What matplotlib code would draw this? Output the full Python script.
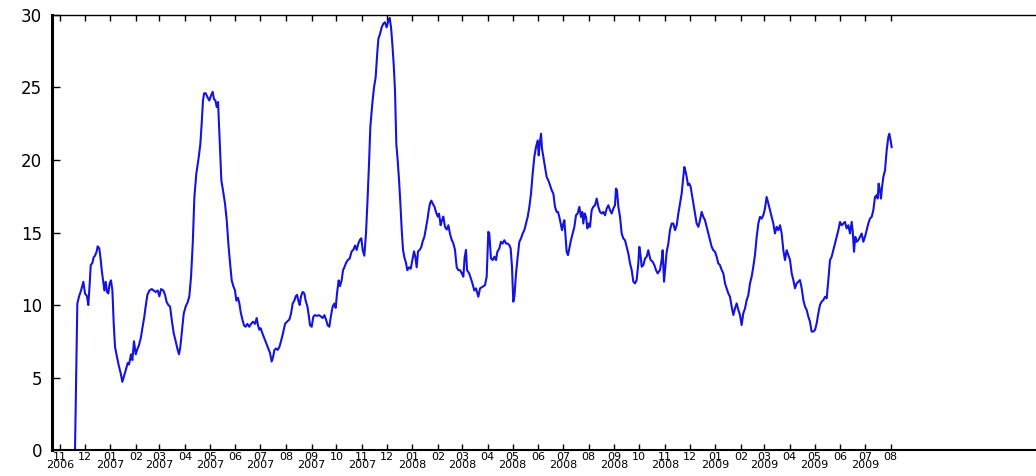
import pandas as pd
import matplotlib
matplotlib.use('Agg')
import matplotlib.pyplot as plt

# --- rolling volatility series, read as (day offset from 2006-11-01, value) ---
start = pd.Timestamp('2006-11-01')

day = [
    18.1, 20.9, 23.0, 25.4, 28.2, 30.2, 32.6, 34.2, 35.9, 37.1, 39.1, 40.7, 42.3, 44.3, 45.5,
    47.5, 49.2, 50.4, 52.4, 53.6, 55.2, 56.8, 58.4, 60.0, 61.6, 63.3, 64.9, 66.5, 68.9, 71.3,
    73.3, 75.3, 77.4, 79.4, 81.8, 83.4, 85.8, 87.4, 89.4, 91.5, 93.1, 95.5, 97.9, 99.5, 101.9,
    103.5, 105.6, 108.0, 110.8, 113.2, 115.6, 118.0, 120.1, 122.1, 124.9, 126.9, 128.9, 130.9,
    133.0, 135.0, 137.4, 139.8, 141.8, 143.8, 145.4, 147.5, 149.5, 151.9, 154.3, 156.3, 158.3,
    160.4, 162.4, 164.8, 167.2, 169.6, 171.2, 172.8, 174.1, 176.1, 178.5, 180.5, 182.5, 184.5,
    186.1, 187.8, 189.4, 191.0, 193.0, 195.0, 197.0, 199.4, 201.5, 203.5, 205.5, 207.5, 209.5,
    211.5, 213.1, 215.1, 216.8, 218.4, 220.4, 222.4, 224.4, 226.4, 228.8, 230.9, 233.3, 235.7,
    237.7, 239.3, 240.9, 242.5, 244.6, 247.0, 249.4, 251.8, 253.8, 255.8, 257.5, 259.1, 261.1,
    263.1, 265.1, 267.1, 269.5, 272.0, 274.4, 277.2, 279.2, 281.2, 283.2, 284.9, 286.5, 288.1,
    289.7, 291.3, 293.3, 295.3, 296.9, 299.0, 300.6, 302.2, 304.2, 306.2, 308.2, 310.6, 313.1,
    315.5, 317.5, 319.5, 321.5, 323.5, 325.5, 327.6, 329.6, 331.6, 333.2, 334.8, 336.8, 338.4,
    340.4, 342.1, 343.7, 345.7, 347.7, 350.1, 352.5, 354.5, 356.6, 358.6, 360.6, 362.6, 364.2,
    365.8, 367.8, 369.8, 371.5, 373.5, 375.1, 377.5, 379.5, 381.5, 383.6, 384.8, 386.8, 388.8,
    390.8, 392.8, 394.8, 396.9, 398.5, 400.1, 401.7, 403.3, 404.9, 406.5, 408.1, 409.8, 411.4,
    413.0, 414.6, 416.2, 418.2, 419.8, 421.8, 423.9, 425.9, 427.9, 429.5, 431.1, 432.7, 434.7,
    436.7, 438.4, 440.4, 442.0, 444.0, 445.6, 447.2, 448.8, 450.4, 452.5, 454.5, 456.5, 458.1,
    460.1, 461.7, 463.3, 465.3, 467.4, 469.4, 471.4, 473.4, 475.4, 477.4, 479.5, 481.5, 483.5,
    485.5, 487.5, 489.1, 490.7, 492.0, 494.4, 496.8, 498.4, 500.8,
    502.8, 505.6, 507.7, 510.9, 513.7, 515.7, 517.7, 518.9, 520.9, 523.0, 525.0, 527.0, 528.6,
    531.0, 533.0, 535.0, 537.1, 539.1, 541.1, 543.1, 544.7, 546.3, 547.9, 549.2, 551.2, 553.2,
    555.2, 557.2, 559.2, 561.2, 563.3, 565.3, 567.3, 569.3, 571.3, 573.3, 575.3, 577.4, 578.6,
    579.8, 581.4, 582.6, 584.2, 586.2, 588.2, 590.2, 592.3, 594.3, 596.3, 598.3, 600.3, 601.9,
    603.5, 605.1, 606.8, 608.4, 609.6, 610.8, 612.4, 614.0, 615.6, 617.6, 619.6, 621.7, 623.7,
    625.7, 627.7, 629.7, 631.3, 632.5, 634.2, 635.8, 637.4, 639.0, 640.6, 642.6, 644.6, 646.7,
    648.7, 650.7, 652.7, 654.7, 656.7, 658.7, 660.8, 662.8, 664.8, 666.8, 668.8, 670.8, 672.0,
    673.2, 674.9, 676.9, 678.9, 680.9, 682.9, 684.9, 686.9, 689.0, 691.0, 693.0, 695.0, 697.0,
    699.0, 700.2, 701.9, 703.1, 705.1, 707.1, 709.1, 711.1, 712.3, 713.9, 716.4, 718.4, 720.4,
    722.4, 725.2, 727.2, 728.4, 730.1, 731.7, 733.3, 735.3, 737.3, 739.3, 741.3, 743.4, 745.4,
    747.4, 749.4, 751.4, 753.4, 754.6, 755.8, 757.5, 759.1, 760.7, 762.3, 763.9, 765.5, 767.5,
    769.5, 771.6, 773.6, 775.6, 777.6, 779.6, 781.6, 783.6, 785.7, 787.7, 789.7, 791.7, 793.7,
    795.7, 797.7, 799.8, 801.8, 803.8, 805.8, 807.8, 809.8, 811.8, 813.9, 815.9, 817.9, 819.9,
    821.9, 823.9, 825.9, 828.0, 830.0, 832.0, 834.0, 836.0, 838.0, 840.0, 842.1, 844.1, 846.1,
    848.1, 850.1, 852.1, 854.1, 856.2, 858.2, 860.2, 862.2, 864.2, 866.2, 868.2, 870.3, 872.3,
    874.3, 876.3, 878.3, 880.3, 882.4, 884.4, 886.4, 888.4, 890.4, 892.4, 894.4, 896.5, 898.5,
    900.5, 902.5, 904.5, 906.5, 908.5, 910.6, 912.6, 914.6, 916.6, 918.6, 920.6, 922.6, 924.7,
    926.7, 928.7, 930.7, 932.7, 934.7, 936.7, 938.8, 940.8, 942.8, 944.8, 946.8, 948.8, 950.8,
    952.9, 954.9, 956.9, 958.1, 959.7, 961.3, 962.9, 964.9, 967.0, 969.0, 971.0, 973.0, 975.0,
    977.0, 979.0, 981.1, 983.1, 985.1, 987.1, 988.3, 989.5, 991.1, 992.3, 993.6, 995.2, 997.2,
    999.2, 1001.2, 1002.4, 1004.0, 1005.2,
]

vol = [
    0.0, 10.1, 10.6, 11.0, 11.6, 10.8, 10.6, 10.0, 11.5, 12.75, 12.9, 13.3, 13.4, 13.7, 14.05,
    13.9, 13.1, 12.4, 11.5, 11.0, 11.6, 10.9, 10.8, 11.5, 11.7, 11.0, 8.7, 7.1, 6.4, 5.75,
    5.3, 4.7, 5.1, 5.5, 6.0, 5.9, 6.6, 6.2, 7.5, 6.6, 6.9, 7.25, 7.8, 8.4, 9.2,
    9.9, 10.7, 11.0, 11.1, 11.0, 10.9, 11.0, 10.6, 11.1, 11.0, 10.7, 10.2, 10.0,
    9.9, 9.0, 8.05, 7.5, 7.0, 6.6, 7.1, 8.3, 9.4, 9.9, 10.2, 10.6, 11.9,
    14.2, 17.45, 19.1, 20.0, 21.1, 22.5, 24.1, 24.6, 24.6, 24.3, 24.1, 24.45, 24.7,
    24.2, 24.1, 23.65, 24.0, 21.35, 18.6, 17.9, 17.0, 15.85, 14.2, 12.9, 11.7, 11.3,
    11.0, 10.3, 10.5, 10.1, 9.5, 9.0, 8.6, 8.5, 8.7, 8.5, 8.7, 8.85, 8.7,
    9.1, 8.6, 8.3, 8.4, 8.05, 7.7, 7.35, 7.0, 6.7, 6.1, 6.4, 6.9, 7.0,
    6.9, 7.1, 7.5, 8.05, 8.7, 8.85, 9.0, 9.4, 10.1, 10.3, 10.6, 10.7, 10.3,
    10.0, 10.6, 10.9, 10.8, 10.3, 9.9, 9.3, 8.6, 8.5, 9.2, 9.3, 9.25, 9.3,
    9.2, 9.1, 9.3, 9.0, 8.6, 8.5, 9.3, 9.9, 10.1, 9.8, 10.8, 11.7, 11.3,
    11.7, 12.4, 12.6, 12.9, 13.1, 13.2, 13.7, 13.8, 14.1, 13.8, 14.25, 14.5, 14.6,
    13.8, 13.4, 14.9, 17.0, 19.75, 22.3, 23.9, 25.0, 25.7, 27.5, 28.35, 28.7, 29.15,
    29.4, 29.5, 29.15, 29.6, 29.8, 29.15, 28.0, 26.6, 24.8, 21.1, 20.0, 18.6, 17.0,
    15.2, 13.8, 13.3, 12.9, 12.4, 12.6, 12.5, 13.1, 13.7, 13.3, 12.6, 13.7, 13.8,
    14.0, 14.4, 14.7, 15.2, 15.85, 16.5, 17.0, 17.2, 17.0, 16.8, 16.4, 16.1, 16.3,
    15.5, 15.85, 16.1, 15.4, 15.2, 15.5, 14.9, 14.5, 14.25, 13.8, 12.6, 12.4, 12.4,
    12.2, 11.95, 13.3, 13.8, 12.4, 12.2, 11.8, 11.5, 11.0,
    11.15, 10.57, 11.15, 11.26, 11.38, 11.95, 15.05, 14.93, 13.21, 13.10, 13.33, 13.10, 13.67,
    13.90, 14.36, 14.24, 14.47, 14.24, 14.24, 14.13, 13.90, 12.64, 10.23, 10.57, 12.18, 13.33,
    14.36, 14.59, 14.93, 15.16, 15.62, 16.08, 16.77, 17.68, 19.06, 20.21, 20.89, 21.35, 20.32,
    21.12, 21.81, 20.78, 20.21, 19.52, 18.83, 18.60, 18.26, 17.91, 17.68, 16.77, 16.42, 16.42,
    16.08, 15.62, 15.16, 15.62, 15.85, 14.93, 13.67, 13.44, 13.90, 14.47, 14.93, 15.39, 16.19,
    16.31, 16.77, 16.08, 16.42, 15.62, 16.31, 16.08, 15.28, 15.62, 15.39, 16.54, 16.77, 16.88,
    17.34, 16.77, 16.42, 16.31, 16.42, 16.19, 16.65, 16.88, 16.54, 16.31, 16.65, 16.88, 18.03,
    17.91, 16.77, 16.08, 14.93, 14.59, 14.47, 14.01, 13.56, 12.87, 12.41, 11.61, 11.49, 11.72,
    12.87, 14.01, 13.33, 12.64, 12.75, 13.21, 13.33, 13.78, 13.44, 13.10, 12.98, 12.75, 12.41,
    12.18, 12.41, 13.10, 13.78, 11.61, 12.64, 13.67, 14.24, 15.16, 15.62, 15.62, 15.16, 15.50,
    16.31, 17.00, 17.68, 18.83, 19.52, 19.29, 18.83, 18.26, 18.37, 18.14, 17.57, 17.00, 16.31,
    15.62, 15.39, 15.85, 16.42, 16.08, 15.85, 15.39, 14.93, 14.47, 14.01, 13.78, 13.67, 13.33,
    12.87, 12.75, 12.41, 12.18, 11.49, 11.15, 10.80, 10.57, 9.89, 9.31, 9.77, 10.11, 9.66,
    9.31, 8.62, 9.43, 9.77, 10.34, 10.69, 11.49, 11.95, 12.64, 13.44, 14.70, 15.62, 16.08,
    15.96, 16.19, 16.65, 17.45, 17.00, 16.54, 16.08, 15.62, 14.93, 15.39, 15.16, 15.50, 14.93,
    13.78, 13.10, 13.78, 13.44, 13.10, 12.18, 11.72, 11.15, 11.49, 11.61, 11.72, 11.15, 10.34,
    9.89, 9.66, 9.20, 8.85, 8.17, 8.17, 8.28, 8.74, 9.43, 10.00, 10.23, 10.34, 10.57,
    10.46, 11.72, 13.10, 13.33, 13.78, 14.24, 14.70, 15.16, 15.73, 15.50, 15.62, 15.73, 15.28,
    15.50, 14.93, 15.73, 15.16, 13.67, 14.70, 14.36, 14.47, 14.70, 14.93, 14.36, 14.70, 15.16,
    15.62, 15.96, 16.08, 16.54, 17.45, 17.57, 17.34, 18.37, 17.91, 17.34, 18.14, 18.83, 19.29,
    20.67, 21.58, 21.81, 21.35, 20.89,
]

# monthly ticks: odd months carry the year, even months only the month
major_months = pd.date_range('2006-11-01', '2009-07-01', freq='2MS')
minor_months = pd.date_range('2006-12-01', '2009-08-01', freq='2MS')
y_ticks = [0, 5, 10, 15, 20, 25, 30]

dates = start + pd.to_timedelta(day, unit='D')

fig = plt.figure(figsize=(10.36, 4.76), dpi=100)
# axes runs past the right edge of the canvas
ax = fig.add_axes([0.0502, 0.0546, 0.966, 0.9139])

ax.plot(dates, vol, color='#1414e0', linewidth=1.5)

ax.set_xlim(start - pd.Timedelta(days=9.7), start + pd.Timedelta(days=1200))
ax.set_ylim(0, 30)

ax.set_xticks(major_months)
ax.set_xticklabels([d.strftime('%m\n%Y') for d in major_months], linespacing=0.8)
ax.set_xticks(minor_months, minor=True)
ax.set_xticklabels([d.strftime('%m') for d in minor_months], minor=True)
ax.set_yticks(y_ticks)
ax.set_yticklabels([str(v) for v in y_ticks])

ax.tick_params(axis='x', which='both', direction='in', top=True, bottom=True,
               length=4, width=1, labelsize=8, pad=1.5)
ax.tick_params(axis='y', direction='in', left=True, right=False,
               length=6, width=1, labelsize=12, pad=7)

ax.spines['left'].set_linewidth(2.2)
ax.spines['bottom'].set_linewidth(1.5)
ax.spines['top'].set_linewidth(1.0)

fig.savefig('out.png', dpi=100)
